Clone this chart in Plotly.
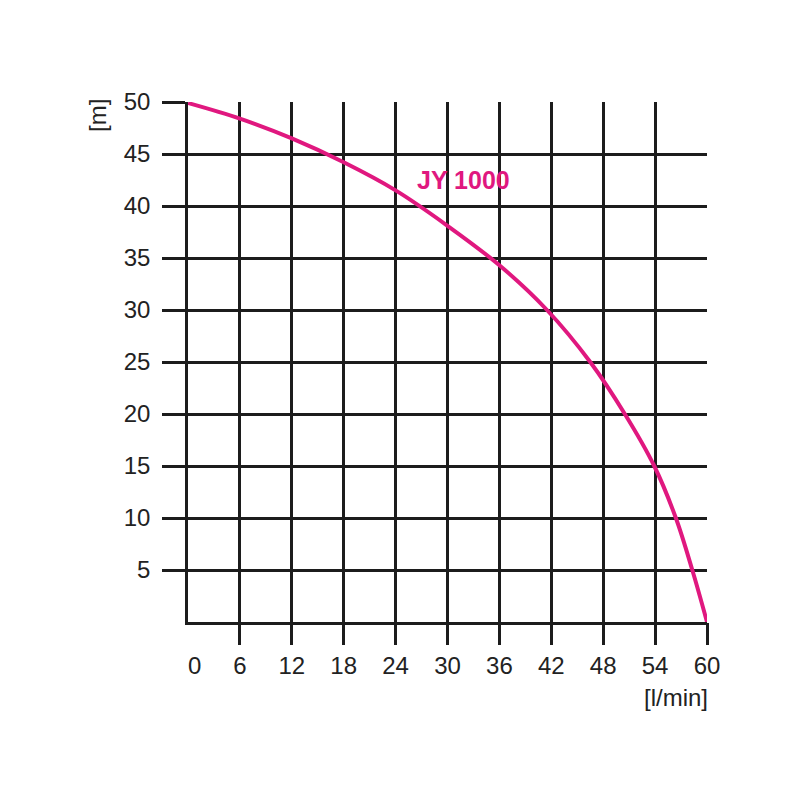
import plotly.graph_objects as go

flow = [0, 6, 12, 18, 24, 30, 36, 41.5, 46.5, 50.5, 53.9, 56.4, 58.3, 60]
head = [49.9, 48.4, 46.5, 44.2, 41.5, 38.1, 34.3, 30.0, 25.0, 20.0, 15.0, 10.0, 5.0, 0.0]
x_ticks = [0, 6, 12, 18, 24, 30, 36, 42, 48, 54, 60]
x_tick_labels = ["\u00a0\u00a00", "6", "12", "18", "24", "30", "36", "42", "48", "54", "60"]
y_ticks = [5, 10, 15, 20, 25, 30, 35, 40, 45, 50]
series_name = "JY 1000"

MAG = "#e0187f"
GRID = "#1c1c1c"
TXT = "#222222"
FONT = "Liberation Sans, Arial, sans-serif"

L, R, T, B = 180, 101, 94, 186
W = H = 800
pw, ph = W - L - R, H - T - B


def px_to_paper(px, py):
    # page pixels (figure is offset by 8px body margin)
    return (px - 8 - L) / pw, (H - B - (py - 8)) / ph


fig = go.Figure()
fig.add_trace(go.Scatter(x=flow, y=head, mode="lines",
                         line=dict(color=MAG, width=4, shape="spline", smoothing=1.0),
                         hoverinfo="skip", showlegend=False))
fig.add_trace(go.Scatter(x=[0, 60], y=[0, 0], xaxis="x2", mode="lines",
                         line=dict(width=0), showlegend=False, hoverinfo="skip"))

mx, my = px_to_paper(97, 116)
lx, ly = px_to_paper(676, 697)

fig.update_layout(
    width=W, height=H,
    paper_bgcolor="white", plot_bgcolor="white",
    margin=dict(l=L, r=R, t=T, b=B),
    font=dict(family=FONT, size=24, color=TXT),
    xaxis=dict(range=[0, 60], tickvals=x_ticks, ticktext=x_tick_labels,
               showgrid=True, gridcolor=GRID, gridwidth=2.5,
               showline=True, linecolor=GRID, linewidth=2.5,
               ticks="", zeroline=False, ticklabelstandoff=20,
               tickfont=dict(size=24, color=TXT)),
    xaxis2=dict(range=[0, 60], overlaying="x", side="bottom", anchor="y",
                tickvals=x_ticks[1:], showticklabels=False,
                ticks="outside", ticklen=22, tickwidth=2.5, tickcolor=GRID,
                showgrid=False, zeroline=False, showline=False),
    yaxis=dict(range=[0, 50], tickvals=y_ticks, ticktext=[str(v) for v in y_ticks],
               showgrid=True, gridcolor=GRID, gridwidth=2.5,
               showline=True, linecolor=GRID, linewidth=2.5,
               ticks="outside", ticklen=23, tickwidth=2.5, tickcolor=GRID,
               zeroline=False, ticklabelstandoff=7,
               tickfont=dict(size=24, color=TXT)),
    annotations=[
        dict(x=31.9, y=42.5, xref="x", yref="y", text="<b>" + series_name + "</b>",
             xanchor="center", yanchor="middle",
             showarrow=False, font=dict(color=MAG, size=25, family=FONT)),
        dict(x=mx, y=my, xref="paper", yref="paper", xanchor="center", yanchor="middle",
             text="[m]", textangle=-90, showarrow=False,
             font=dict(size=24, color=TXT)),
        dict(x=lx, y=ly, xref="paper", yref="paper", xanchor="center", yanchor="middle",
             text="[l/min]", showarrow=False, font=dict(size=24, color=TXT)),
    ],
)

fig.write_html("out.html")
